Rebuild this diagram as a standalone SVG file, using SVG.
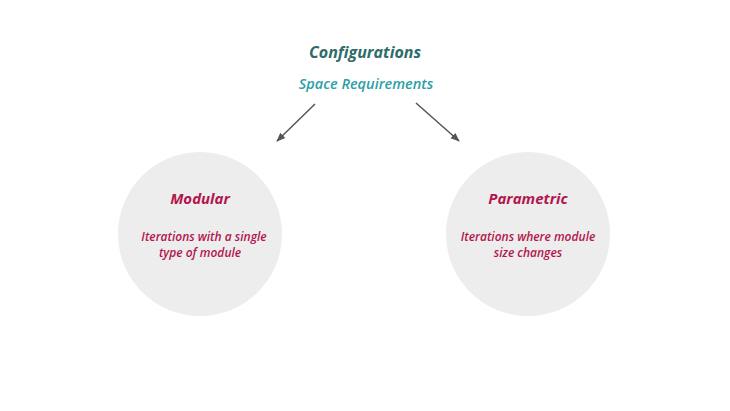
<svg xmlns="http://www.w3.org/2000/svg" width="730" height="411" viewBox="0 0 730 411">
<defs>
<style>
text{font-family:"Open Sans","Noto Sans",sans-serif;font-style:italic;text-anchor:middle}
.t{font-size:16px;font-weight:700;fill:#2e6b6a}
.s{font-size:14.5px;font-weight:600;fill:#2a9fa6}
.h{font-size:15px;font-weight:700;fill:#b3164e}
.d{font-size:12px;font-weight:600;fill:#b3164e}
.c{fill:#ededed}
.a{stroke:#555;stroke-width:1.5;fill:none;marker-end:url(#ah)}
</style>
<marker id="ah" viewBox="0 0 10 10" refX="9" refY="5" markerWidth="6" markerHeight="6" orient="auto">
<path d="M0,1 L10,5 L0,9 z" fill="#555"/>
</marker>
</defs>
<rect width="730" height="411" fill="#fff"/>
<g id="title">
<text class="t" x="365" y="58">Configurations</text>
<text class="s" x="366" y="89">Space Requirements</text>
</g>
<g id="modular">
<circle class="c" cx="200" cy="234" r="82"/>
<text class="h" x="200" y="204">Modular</text>
<text class="d" x="204" y="241">Iterations with a single</text>
<text class="d" x="200" y="257">type of module</text>
</g>
<g id="parametric">
<circle class="c" cx="528" cy="234" r="82"/>
<text class="h" x="528" y="204">Parametric</text>
<text class="d" x="528" y="241">Iterations where module</text>
<text class="d" x="528" y="257">size changes</text>
</g>
<g id="connectors">
<path class="a" d="M315,104 L277,141"/>
<path class="a" d="M416,103 L459,141"/>
</g>
</svg>
